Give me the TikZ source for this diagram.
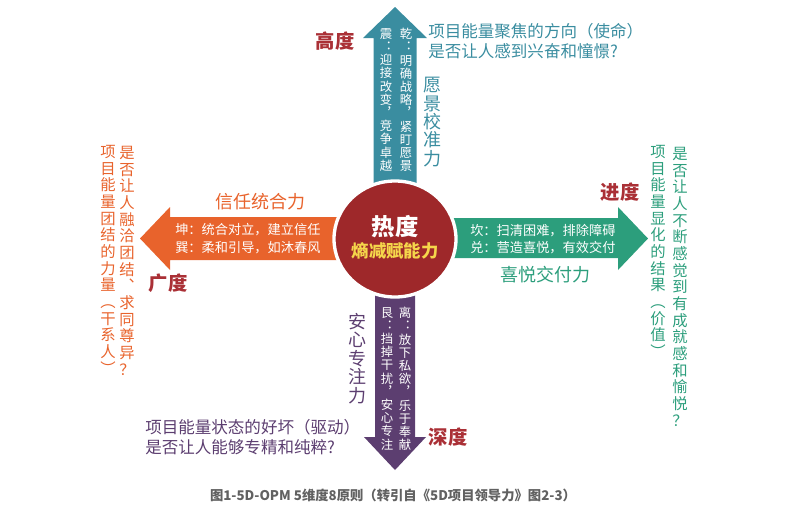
\documentclass[tikz,border=0pt]{standalone}
\usepackage{fontspec}
\setmainfont{Noto Sans CJK SC}
\usetikzlibrary{shapes.geometric}
\definecolor{gaoteal}{RGB}{58,141,160}
\definecolor{guangorange}{RGB}{232,99,44}
\definecolor{jingreen}{RGB}{44,158,124}
\definecolor{shenpurple}{RGB}{92,62,112}
\definecolor{redu}{RGB}{158,40,42}
\definecolor{dured}{RGB}{170,48,54}
\definecolor{shangyellow}{RGB}{245,214,75}
\makeatletter
\newcommand\vtext[1]{\vbox{\lineskiplimit=-100pt\@tfor\vc:=#1\do{\hbox to 1em{\hss\vc\hss}}}}
\makeatother

\begin{document}
\begin{tikzpicture}[x=0.75pt,y=-0.75pt,
  lbl/.style={text=dured,inner sep=0pt,font=\fontsize{14.5}{16}\selectfont\bfseries},
  inner/.style={text=white,inner sep=0pt,font=\fontsize{9.3}{9.9}\selectfont},
  force/.style={inner sep=0pt,font=\fontsize{13.5}{13.8}\selectfont},
  note/.style={inner sep=0pt,align=left,font=\fontsize{12.4}{15}\selectfont},
  vnote/.style={inner sep=0pt,anchor=north,font=\fontsize{11.5}{12.5}\selectfont}]
\useasboundingbox (0,0) rectangle (789,526);
% arrows
\fill[gaoteal] (373.5,239) -- (373.5,38) -- (363,38) -- (395,7) -- (427,38) -- (416.5,38) -- (416.5,239) -- cycle;
\fill[shenpurple] (375,239) -- (375,437) -- (364,437) -- (395,470) -- (426,437) -- (415,437) -- (415,239) -- cycle;
\fill[guangorange] (395,217) -- (170,217) -- (170,207) -- (140,238.5) -- (170,270) -- (170,260) -- (395,260) -- cycle;
\fill[jingreen] (395,218) -- (618,218) -- (618,207) -- (648,238.5) -- (618,270) -- (618,258) -- (395,258) -- cycle;
% centre
\node[ellipse,draw=white,line width=2.5pt,fill=redu,minimum width=91.5pt,minimum height=87pt] (core) at (395,239) {};
\node[text=white,font=\fontsize{17.5}{20}\selectfont\bfseries] (heat) at (395,227) {热度};
\node[text=shangyellow,font=\fontsize{13}{15}\selectfont\bfseries] (entropy) at (395,251) {熵减赋能力};
% four degrees
\node[lbl] (gaodu) at (335,41) {高度};
\node[lbl] (guangdu) at (168,283) {广度};
\node[lbl] (jindu) at (620,192) {进度};
\node[lbl] (shendu) at (448,437) {深度};
% height
\node[inner,anchor=north] (qian) at (406,28) {\vtext{乾︓明确战略︐紧盯愿景}};
\node[inner,anchor=north] (zhen) at (386,28) {\vtext{震︓迎接改变︐竞争卓越}};
\node[force,text=gaoteal,anchor=north] (yuanjing) at (432,77) {\vtext{愿景校准力}};
\node[note,text=gaoteal,anchor=west] (shiming) at (428,41.5) {项目能量聚焦的方向（使命）\\是否让人感到兴奋和憧憬?};
% breadth
\node[force,text=guangorange] (xinren) at (260,202) {信任统合力};
\node[inner,align=left,anchor=west,font=\fontsize{9.9}{13.9}\selectfont] (kun) at (175,238.5) {坤：统合对立，建立信任\\巽：柔和引导，如沐春风};
\node[vnote,text=guangorange] (tuanjie) at (108,145) {\vtext{项目能量团结的力量︵干系人︶}};
\node[vnote,text=guangorange] (ronghe) at (127,146) {\vtext{是否让人融洽团结︑求同尊异？}};
% progress
\node[inner,align=left,anchor=west,font=\fontsize{9.9}{12.3}\selectfont] (kan) at (470,239) {坎：扫清困难，排除障碍\\兑：营造喜悦，有效交付};
\node[force,text=jingreen] (xiyue) at (545,275) {喜悦交付力};
\node[vnote,text=jingreen] (xianhua) at (658,145) {\vtext{项目能量显化的结果︵价值︶}};
\node[vnote,text=jingreen] (chengjiu) at (680,147) {\vtext{是否让人不断感觉到有成就感和愉悦？}};
% depth
\node[inner,anchor=north] (li) at (405,307) {\vtext{离︓放下私欲︐乐于奉献}};
\node[inner,anchor=north] (gen) at (387,307) {\vtext{艮︓挡掉干扰︐安心专注}};
\node[force,text=shenpurple,anchor=north] (anxin) at (357,313) {\vtext{安心专注力}};
\node[note,text=shenpurple,anchor=west] (qudong) at (145,437) {项目能量状态的好坏（驱动）\\是否让人能够专精和纯粹?};
% caption
\node[text=black!62,font=\fontsize{10}{12}\selectfont\bfseries] (caption) at (393,495) {图1-5D-OPM 5维度8原则（转引自《5D项目领导力》图2-3）};
\end{tikzpicture}
\end{document}
